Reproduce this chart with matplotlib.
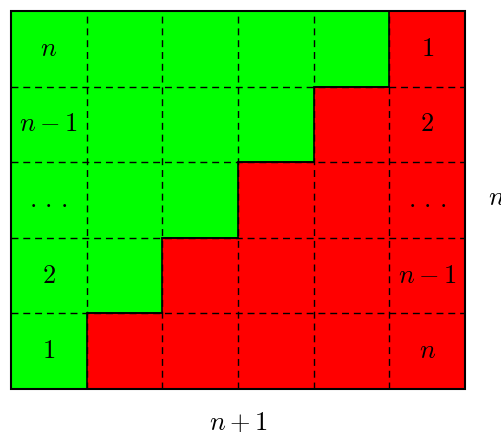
import matplotlib
matplotlib.use("Agg")
import matplotlib.pyplot as plt
from matplotlib.patches import Rectangle

plt.rcParams['mathtext.fontset'] = 'cm'

n_cols = 6
n_rows = 5
green_counts = [5, 4, 3, 2, 1]          # green cells per row, top to bottom
left_labels = [r"$n$", r"$n-1$", r"$.\,.\,.$", r"$2$", r"$1$"]
right_labels = [r"$1$", r"$2$", r"$.\,.\,.$", r"$n-1$", r"$n$"]
bottom_label = r"$n+1$"
side_label = r"$n$"
green = "#00ff00"
red = "#ff0000"

W, H = 502, 432
fig = plt.figure(figsize=(W / 100, H / 100), dpi=100)
ax = fig.add_axes([11 / W, (H - 389) / H, 454 / W, 378 / H])
ax.set_xlim(0, n_cols)
ax.set_ylim(0, n_rows)
ax.axis('off')

for i, g in enumerate(green_counts):
    y = n_rows - 1 - i
    for c in range(n_cols):
        col = green if c < g else red
        ax.add_patch(Rectangle((c, y), 1, 1, facecolor=col, edgecolor='none', zorder=1))

# dashed internal grid
for c in range(1, n_cols):
    ax.plot([c, c], [0, n_rows], color='black', lw=1.0, ls=(0, (5, 3.5)), zorder=2)
for r in range(1, n_rows):
    ax.plot([0, n_cols], [r, r], color='black', lw=1.0, ls=(0, (5, 3.5)), zorder=2)

# staircase boundary
xs, ys = [], []
for i, g in enumerate(green_counts):
    top = n_rows - i
    xs += [g, g]
    ys += [top, top - 1]
ax.plot(xs, ys, color='black', lw=1.2, zorder=3)
for i in range(len(green_counts) - 1):
    y = n_rows - 1 - i
    ax.plot([green_counts[i + 1], green_counts[i]], [y, y], color='black', lw=1.2, zorder=3)

# frame
ax.add_patch(Rectangle((0, 0), n_cols, n_rows, facecolor='none', edgecolor='black', lw=1.5, zorder=4, clip_on=False))

fs = 19
for i, (l, r) in enumerate(zip(left_labels, right_labels)):
    y = n_rows - 0.5 - i
    ax.text(0.5, y, l, ha='center', va='center', fontsize=fs, zorder=5)
    ax.text(n_cols - 0.5, y, r, ha='center', va='center', fontsize=fs, zorder=5)

ax.text(n_cols / 2, -0.44, bottom_label, ha='center', va='center', fontsize=fs, clip_on=False)
ax.text(6.30, 2.5 + 0.02, side_label, ha='left', va='center', fontsize=fs, clip_on=False)

fig.savefig("out.png", dpi=100)
